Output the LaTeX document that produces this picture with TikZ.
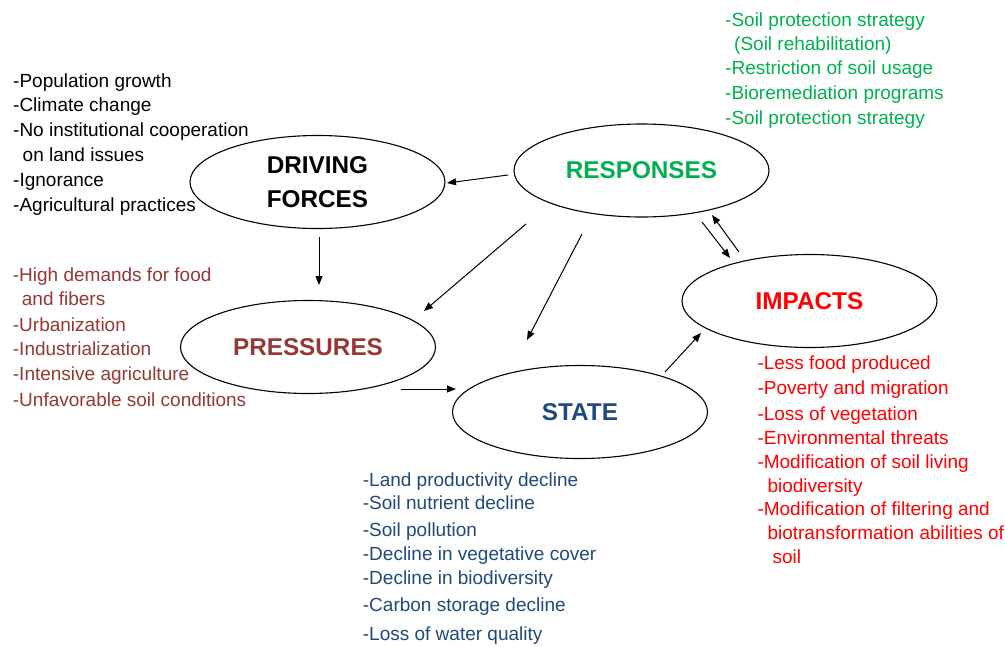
\documentclass[tikz,border=0pt]{standalone}
\usepackage{fontspec}
\setmainfont{Liberation Sans}
\usetikzlibrary{arrows.meta,shapes.geometric}
\definecolor{respgreen}{RGB}{0,176,80}
\definecolor{pressred}{RGB}{149,55,53}
\definecolor{stateblue}{RGB}{31,73,125}
\definecolor{impred}{RGB}{255,0,0}
\begin{document}
\begin{tikzpicture}[x=1pt,y=-1pt,
  phase/.style={ellipse, draw=black, line width=1.1pt, minimum width=255pt, minimum height=93pt, inner sep=0pt, align=center, font=\fontsize{24.3}{33.5}\selectfont\bfseries},
  item/.style={anchor=base west, inner sep=0pt, font=\fontsize{19}{22}\selectfont},
  conn/.style={-{Triangle[length=9pt,width=7pt]}, line width=1pt, draw=black}]
\useasboundingbox (0,0) rectangle (1005,646);

% ellipses
\node[phase, text=black] (drive) at (317.5,182) {DRIVING\\FORCES};
\node[phase, text=respgreen] (resp) at (641.5,170.5) {RESPONSES};
\node[phase, text=pressred] (press) at (308,347) {PRESSURES};
\node[phase, text=stateblue] (state) at (580,412) {STATE};
\node[phase, text=impred] (imp) at (809.5,301) {IMPACTS};

% text blocks
\foreach \x/\y/\t [count=\i] in {
  13/87.3/-Population growth,
  13/111.7/-Climate change,
  13/136.7/-No institutional cooperation,
  22.5/161/on land issues,
  13/186/-Ignorance,
  13/211.7/-Agricultural practices}
  \node[item, text=black] (drv\i) at (\x,\y) {\t};

\foreach \x/\y/\t [count=\i] in {
  725/26/-Soil protection strategy,
  734/50.7/(Soil rehabilitation),
  725/74/-Restriction of soil usage,
  725/99.3/-Bioremediation programs,
  725/124/-Soil protection strategy}
  \node[item, text=respgreen] (rsp\i) at (\x,\y) {\t};

\foreach \x/\y/\t [count=\i] in {
  12.7/281.7/-High demands for food,
  21.7/305.7/and fibers,
  12.7/331/-Urbanization,
  12.7/355.7/-Industrialization,
  12.7/380/-Intensive agriculture,
  12.7/406.7/-Unfavorable soil conditions}
  \node[item, text=pressred] (prs\i) at (\x,\y) {\t};

\foreach \x/\y/\t [count=\i] in {
  362.7/486/-Land productivity decline,
  362.7/509.3/-Soil nutrient decline,
  362.7/536/-Soil pollution,
  362.7/560.7/-Decline in vegetative cover,
  362.7/584/-Decline in biodiversity,
  362.7/611.7/-Carbon storage decline,
  362.7/640/-Loss of water quality}
  \node[item, text=stateblue] (stt\i) at (\x,\y) {\t};

\foreach \x/\y/\t [count=\i] in {
  757.3/369/-Less food produced,
  757.3/394.3/-Poverty and migration,
  757.3/420/-Loss of vegetation,
  757.3/444.3/-Environmental threats,
  757.3/468.3/-Modification of soil living,
  767.3/492.7/biodiversity,
  757.3/515/-Modification of filtering and,
  767.3/539/biotransformation abilities of,
  772.3/563/soil}
  \node[item, text=impred] (imt\i) at (\x,\y) {\t};

% connector end points
\coordinate (rd1) at (508,175);  \coordinate (rd2) at (447,183);
\coordinate (dp1) at (319,237);  \coordinate (dp2) at (319,285);
\coordinate (rp1) at (526,224);  \coordinate (rp2) at (424,311);
\coordinate (rs1) at (582,234);  \coordinate (rs2) at (527,340);
\coordinate (ps1) at (401,389);  \coordinate (ps2) at (456,389);
\coordinate (si1) at (665,372);  \coordinate (si2) at (701,333);
\coordinate (ri1) at (702,222);  \coordinate (ri2) at (730,258);
\coordinate (ir1) at (739,252);  \coordinate (ir2) at (712,215);

\draw[conn] (rd1) -- (rd2);
\draw[conn] (dp1) -- (dp2);
\draw[conn] (rp1) -- (rp2);
\draw[conn] (rs1) -- (rs2);
\draw[conn] (ps1) -- (ps2);
\draw[conn] (si1) -- (si2);
\draw[conn] (ri1) -- (ri2);
\draw[conn] (ir1) -- (ir2);
\end{tikzpicture}
\end{document}
